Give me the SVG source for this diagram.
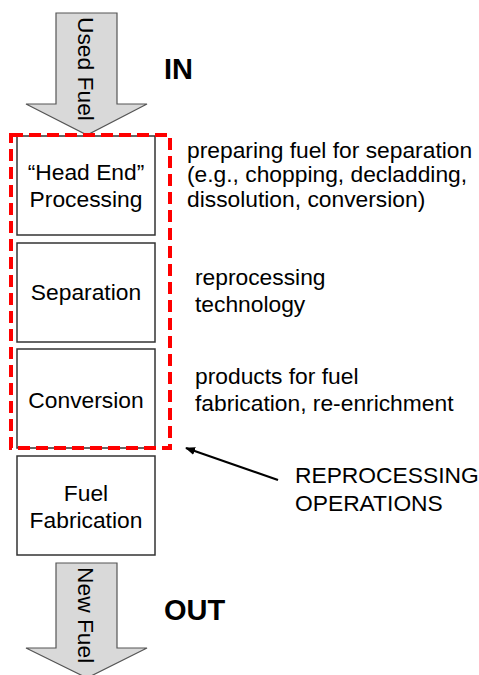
<svg xmlns="http://www.w3.org/2000/svg" width="479" height="675" viewBox="0 0 479 675">
<style>
text{font-family:"Liberation Sans",Arial,sans-serif;fill:#000}
.lbl{font-size:22.8px}
.box{fill:#fff;stroke:#333;stroke-width:1.5}
.big{fill:#d9d9d9;stroke:#555;stroke-width:1.2}
.bold{font-size:29px;font-weight:bold}
</style>
<defs>
<marker id="ah" markerWidth="10" markerHeight="8" refX="9" refY="4" orient="auto" markerUnits="userSpaceOnUse">
<path d="M0,0 L10,4 L0,8 Z" fill="#000"/>
</marker>
</defs>
<g id="in-arrow">
<path class="big" d="M56,13 H117 V104 H147 L87,135 L26,104 H56 Z"/>
<text class="lbl" transform="translate(78,17) rotate(90)">Used Fuel</text>
</g>
<text class="bold" x="164" y="79">IN</text>
<g id="head-end">
<rect class="box" x="17" y="136" width="138" height="99"/>
<text class="lbl" x="86" y="180" text-anchor="middle">“Head End”</text>
<text class="lbl" x="86" y="207" text-anchor="middle">Processing</text>
</g>
<g id="separation">
<rect class="box" x="17" y="243" width="138" height="99"/>
<text class="lbl" x="86" y="300" text-anchor="middle">Separation</text>
</g>
<g id="conversion">
<rect class="box" x="17" y="349" width="138" height="99"/>
<text class="lbl" x="86" y="408" text-anchor="middle">Conversion</text>
</g>
<g id="fabrication">
<rect class="box" x="17" y="456" width="138" height="99"/>
<text class="lbl" x="86" y="501" text-anchor="middle">Fuel</text>
<text class="lbl" x="86" y="528" text-anchor="middle">Fabrication</text>
</g>
<g id="reprocessing-group">
<rect x="11" y="135" width="159" height="313" fill="none" stroke="#ff0000" stroke-width="4" stroke-dasharray="12 6"/>
</g>
<g id="out-arrow">
<path class="big" d="M56,563 H117 V648 H147 L87,678 L26,648 H56 Z"/>
<text class="lbl" transform="translate(78,567) rotate(90)">New Fuel</text>
</g>
<text class="bold" x="164" y="620">OUT</text>
<g id="notes">
<text class="lbl" x="187" y="158">preparing fuel for separation</text>
<text class="lbl" x="187" y="182">(e.g., chopping, decladding,</text>
<text class="lbl" x="187" y="207">dissolution, conversion)</text>
<text class="lbl" x="195" y="285">reprocessing</text>
<text class="lbl" x="195" y="312">technology</text>
<text class="lbl" x="195" y="384">products for fuel</text>
<text class="lbl" x="195" y="411">fabrication, re-enrichment</text>
<text class="lbl" x="295" y="483">REPROCESSING</text>
<text class="lbl" x="295" y="511">OPERATIONS</text>
</g>
<g id="connectors">
<line x1="278" y1="480" x2="186" y2="448" stroke="#000" stroke-width="2.2" marker-end="url(#ah)"/>
</g>
</svg>
